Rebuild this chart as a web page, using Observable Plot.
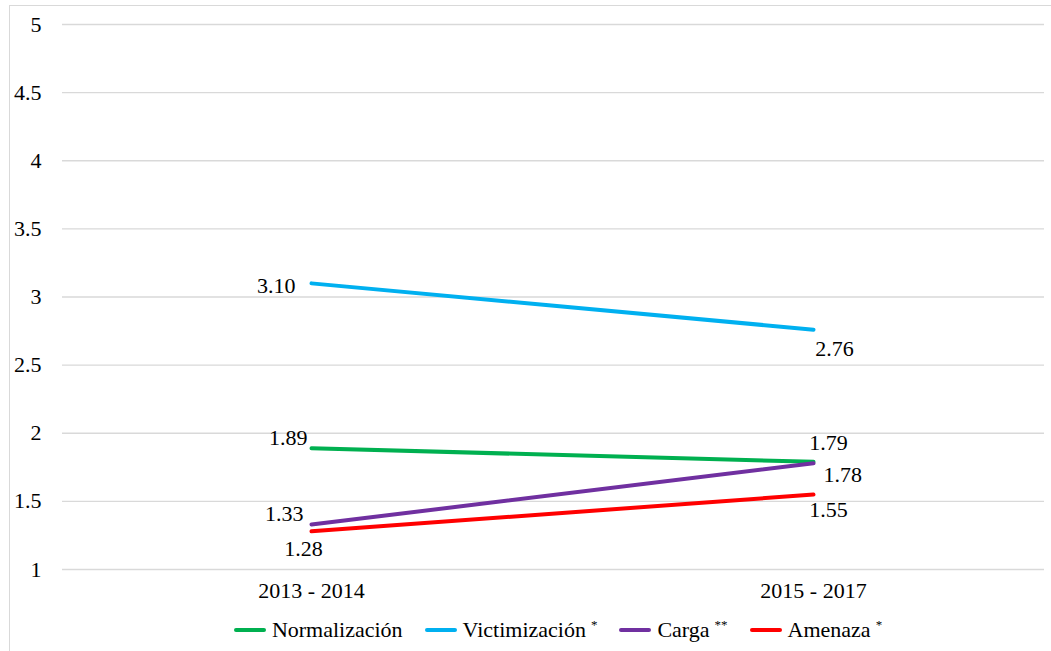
<!DOCTYPE html>
<html>
<head>
<meta charset="utf-8">
<script src="https://cdn.jsdelivr.net/npm/d3@7"></script>
<script src="https://cdn.jsdelivr.net/npm/@observablehq/plot@0.6"></script>
<style>
  html, body { margin: 0; padding: 0; background: #fff; width: 1051px; height: 651px; overflow: hidden; }
  #frame { position: absolute; left: 9px; top: 5px; width: 1060px; height: 680px; border: 1px solid #d9d9d9; box-sizing: border-box; }
  #chart { position: absolute; left: 0; top: 0; }
  #legend { position: absolute; left: 0; top: 617px; width: 1116px; display: flex; justify-content: center; align-items: center; font-family: "Liberation Serif", "Times New Roman", serif; font-size: 22px; line-height: 26px; color: #000; }
  .item { display: flex; align-items: center; margin: 0 11px; }
  .sw { width: 32px; height: 4px; border-radius: 2px; margin-right: 6px; }
  sup { font-size: 13px; line-height: 13px; position: relative; top: -6px; margin-left: 5px; }
</style>
</head>
<body>
<div id="frame"></div>
<div id="chart"></div>
<div id="legend"></div>
<script>
const periods = ["2013 - 2014", "2015 - 2017"];
const series = ["Normalización", "Victimización", "Carga", "Amenaza"];
const marks_sup = ["", "*", "**", "*"];
const colors = ["#00B050", "#00B0F0", "#7030A0", "#FF0000"];
const valuesStart = [1.89, 3.10, 1.33, 1.28];
const valuesEnd = [1.79, 2.76, 1.78, 1.55];
const yTicks = [1, 1.5, 2, 2.5, 3, 3.5, 4, 4.5, 5];

const data = [];
series.forEach((s, i) => {
  data.push({series: s, period: periods[0], value: valuesStart[i]});
  data.push({series: s, period: periods[1], value: valuesEnd[i]});
});

const fmt = d => d.value.toFixed(2);
const pick = (s, p) => data.filter(d => d.series === s && d.period === p);

const labelSpecs = [
  {s: "Victimización", p: periods[0], anchor: "end", dx: -16, dy: 3},
  {s: "Normalización", p: periods[0], anchor: "end", dx: -4, dy: -10},
  {s: "Carga", p: periods[0], anchor: "end", dx: -8, dy: -11},
  {s: "Amenaza", p: periods[0], anchor: "middle", dx: -8, dy: 18},
  {s: "Victimización", p: periods[1], anchor: "middle", dx: 21, dy: 19},
  {s: "Normalización", p: periods[1], anchor: "middle", dx: 15, dy: -19},
  {s: "Carga", p: periods[1], anchor: "start", dx: 10, dy: 12},
  {s: "Amenaza", p: periods[1], anchor: "middle", dx: 15, dy: 15}
];

const FONT = "'Liberation Serif', 'Times New Roman', serif";
const FS = 22;

const chart = Plot.plot({
  width: 1051,
  height: 610,
  marginTop: 24,
  marginBottom: 41,
  marginLeft: 62,
  marginRight: 7,
  style: {fontFamily: FONT, fontSize: FS + "px", color: "#000", background: "transparent"},
  x: {type: "point", domain: periods, range: [311, 813], padding: 0, label: null},
  y: {domain: [1, 5], ticks: yTicks, label: null},
  color: {domain: series, range: colors},
  marks: [
    Plot.gridY(yTicks, {stroke: "#d9d9d9", strokeOpacity: 1, strokeWidth: 1.3}),
    Plot.axisY(yTicks, {tickSize: 0, tickPadding: 21, tickFormat: d => String(d), fontSize: FS, fontFamily: FONT, fill: "#000", label: null}),
    Plot.axisX({tickSize: 0, tickPadding: 13, fontSize: FS, fontFamily: FONT, fill: "#000", label: null}),
    Plot.line(data, {x: "period", y: "value", z: "series", stroke: "series", strokeWidth: 4, strokeLinecap: "round"}),
    ...labelSpecs.map(l => Plot.text(pick(l.s, l.p), {x: "period", y: "value", text: fmt, textAnchor: l.anchor, dx: l.dx, dy: l.dy, fontSize: FS, fontFamily: FONT, fill: "#000"}))
  ]
});
document.getElementById("chart").appendChild(chart);

const legend = document.getElementById("legend");
series.forEach((s, i) => {
  const it = document.createElement("div");
  it.className = "item";
  it.innerHTML = `<span class="sw" style="background:${colors[i]}"></span><span>${s}</span>` + (marks_sup[i] ? `<sup>${marks_sup[i]}</sup>` : "");
  legend.appendChild(it);
});
</script>
</body>
</html>
